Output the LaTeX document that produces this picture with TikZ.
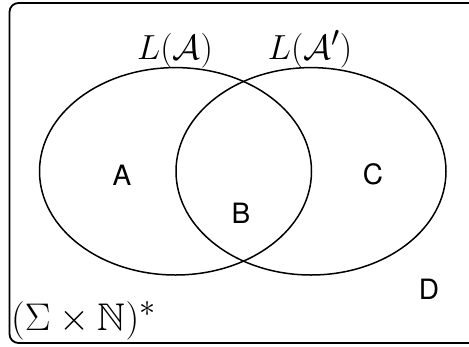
\documentclass[tikz,border=0pt]{standalone}
\usepackage{amssymb}
\usepackage{fontspec}
\newfontfamily\hv{TeX Gyre Heros}
\begin{document}
\begin{tikzpicture}[x=1pt,y=-1pt,
  setline/.style={line width=1.5pt},
  mathlbl/.style={anchor=base,inner sep=0pt,font=\fontsize{24.88}{30}\selectfont},
  region/.style={inner sep=0pt,font=\hv\fontsize{28}{32}\selectfont}]
\useasboundingbox (0,0) rectangle (469,346);
\draw[line width=1.8pt,rounded corners=9pt] (490,3) -- (9.5,3) -- (9.5,343) -- (490,343);
\draw[setline] (175.5,171.3) ellipse [x radius=136, y radius=103.7];
\draw[setline] (311,171.3) ellipse [x radius=135, y radius=103.7];
\node[mathlbl] (la) at (175,59) {\scalebox{1.4}{$L(\mathcal{A})$}};
\node[mathlbl] (lap) at (310,59) {\scalebox{1.4}{$L(\mathcal{A}')$}};
\node[mathlbl,anchor=base west] (sigma) at (11,330) {\scalebox{1.55}{$(\Sigma\times\mathbb{N})^*$}};
\node[region] (A) at (122,175) {A};
\node[region] (B) at (241,213) {B};
\node[region] (C) at (373,174) {C};
\node[region] (D) at (429,289) {D};
\end{tikzpicture}
\end{document}
